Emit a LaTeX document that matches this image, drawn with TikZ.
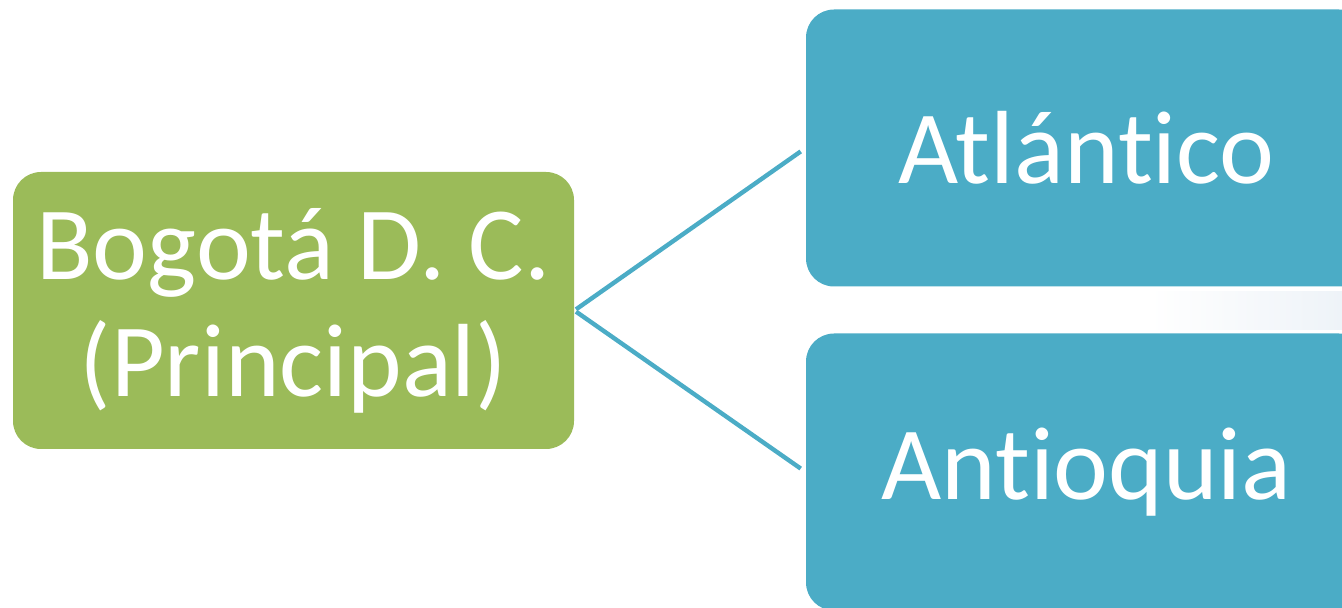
\documentclass[tikz,border=0pt]{standalone}
\usepackage{fontspec}
\setmainfont[RawFeature=-liga]{Carlito}
\definecolor{verde}{HTML}{9BBB59}
\definecolor{azul}{HTML}{4BACC6}
\definecolor{brillo}{HTML}{EEF3F8}
\tikzset{caja/.style={rounded corners=14pt,minimum width=280.5pt,minimum height=138.5pt,inner sep=0pt,text=white,align=center,font=\fontsize{52}{58.5}\selectfont}}
\begin{document}
\begin{tikzpicture}[x=0.5pt,y=-0.5pt]
            \useasboundingbox (0,0) rectangle (1342,608);
            \clip (0,0) rectangle (1342,608);
            \shade[left color=white,right color=brillo] (1150,292) rectangle (1342,330);
            \node[caja,fill=verde] (bogota) at (293.5,310.5) {Bogotá D. C.\\(Principal)};
            \node[caja,fill=azul] (atlantico) at (1086.5,148) {Atlántico};
            \node[caja,fill=azul] (antioquia) at (1086.5,472) {Antioquia};
            \draw[azul,line width=2.2pt,shorten <=1pt,shorten >=3pt] (bogota.east) -- (atlantico.west);
            \draw[azul,line width=2.2pt,shorten <=1pt,shorten >=3pt] (bogota.east) -- (antioquia.west);
        \end{tikzpicture}
\end{document}
